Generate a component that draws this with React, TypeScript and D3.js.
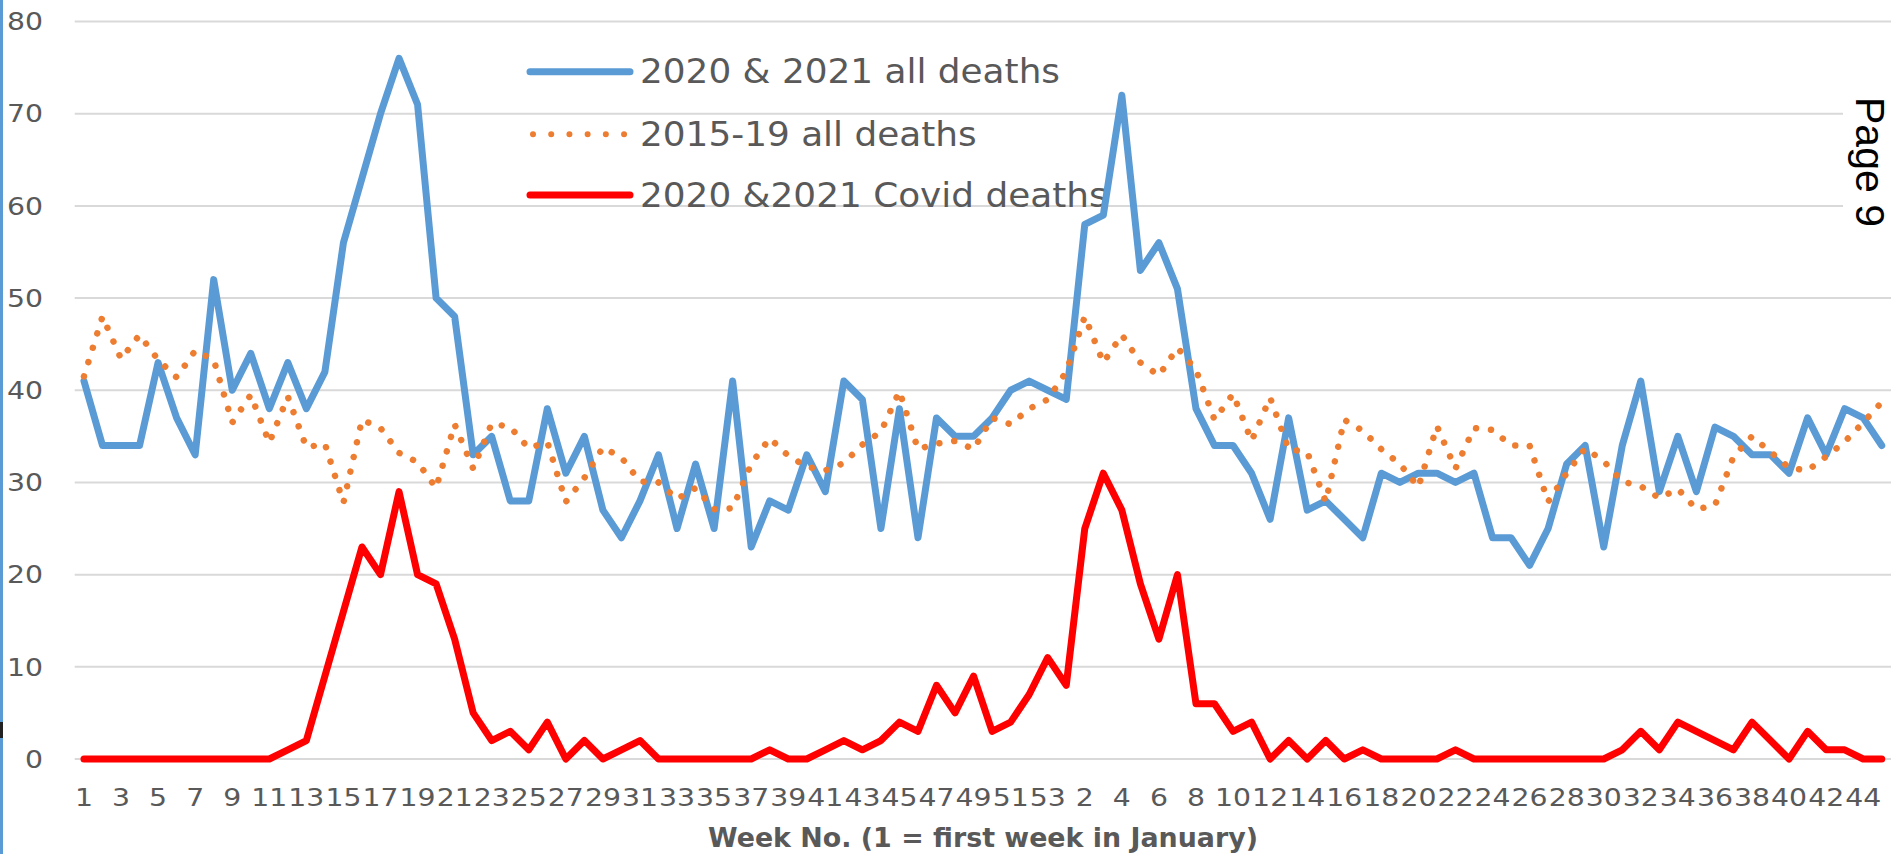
import React from "react";
import * as d3 from "d3";

// ---- data -------------------------------------------------------------
const weeks2020 = [
  1, 2, 3, 4, 5, 6, 7, 8, 9, 10, 11, 12, 13, 14, 15, 16, 17, 18, 19, 20,
  21, 22, 23, 24, 25, 26, 27, 28, 29, 30, 31, 32, 33, 34, 35, 36, 37, 38, 39, 40,
  41, 42, 43, 44, 45, 46, 47, 48, 49, 50, 51, 52, 53,
];
const weeks2021 = [
  1, 2, 3, 4, 5, 6, 7, 8, 9, 10, 11, 12, 13, 14, 15, 16, 17, 18, 19, 20,
  21, 22, 23, 24, 25, 26, 27, 28, 29, 30, 31, 32, 33, 34, 35, 36, 37, 38, 39, 40,
  41, 42, 43, 44, 45,
];

const allDeaths2020_21 = [
  41, 34, 34, 34, 43, 37, 33, 52, 40, 44, 38, 43, 38, 42, 56, 63, 70, 76, 71, 50,
  48, 33, 35, 28, 28, 38, 31, 35, 27, 24, 28, 33, 25, 32, 25, 41, 23, 28, 27, 33,
  29, 41, 39, 25, 38, 24, 37, 35, 35, 37, 40, 41, 40,
  39, 58, 59, 72, 53, 56, 51, 38, 34, 34, 31, 26, 37, 27, 28, 26, 24, 31, 30, 31,
  31, 30, 31, 24, 24, 21, 25, 32, 34, 23, 34, 41, 29, 35, 29, 36, 35, 33, 33, 31,
  37, 33, 38, 37, 34,
];

const allDeaths2015_19 = [
  41.5, 48, 43.4, 46, 43.3, 41.4, 44.3, 43.3, 36.5, 39.5, 34.3, 39.3, 33.8, 34.2,
  27.8, 36.8, 35.9, 33.2, 32.2, 29.4, 36.3, 31.5, 36.4, 36, 33.7, 34.4, 27.9, 30.5,
  33.8, 32.7, 30.1, 30, 28.2, 29.4, 27.1, 27.2, 32, 34.8, 32.9, 31.7, 31.3, 32.1,
  34.1, 35.5, 39.9, 33.6, 34.2, 34.5, 33.6, 37, 36.3, 38, 39,
  42, 48, 43, 46, 43, 41.6, 44.6, 42.2, 36.8, 39.6, 34.5, 39.2, 33.6, 33.3, 27.9,
  36.8, 35.6, 33.6, 32, 29.5, 36.1, 31.5, 35.9, 35.7, 34, 34, 27.9, 31, 33.7, 32.3,
  30.1, 29.6, 28.3, 29.3, 27.1, 27.5, 32.8, 35, 33.3, 31.6, 31.3, 32.8, 34.4, 36.5,
  38.7,
];

const covidDeaths2020_21 = [
  0, 0, 0, 0, 0, 0, 0, 0, 0, 0, 0, 1, 2, 9, 16, 23, 20, 29, 20, 19,
  13, 5, 2, 3, 1, 4, 0, 2, 0, 1, 2, 0, 0, 0, 0, 0, 0, 1, 0, 0,
  1, 2, 1, 2, 4, 3, 8, 5, 9, 3, 4, 7, 11,
  8, 25, 31, 27, 19, 13, 20, 6, 6, 3, 4, 0, 2, 0, 2, 0, 1, 0, 0, 0,
  0, 1, 0, 0, 0, 0, 0, 0, 0, 0, 1, 3, 1, 4, 3, 2, 1, 4, 2, 0,
  3, 1, 1, 0, 0,
];

const yTicks = [0, 10, 20, 30, 40, 50, 60, 70, 80];

const seriesNames = [
  "2020 & 2021 all deaths",
  "2015-19 all deaths",
  "2020 &2021 Covid deaths",
];

const axisTitle = "Week No. (1 = first week in January)";

// categories (one per week, 2020 then 2021)
const categories = [
  ...weeks2020.map((w) => `2020-${w}`),
  ...weeks2021.map((w) => `2021-${w}`),
];
const weekNumbers = [...weeks2020, ...weeks2021];

// ---- styles -------------------------------------------------------------
const BLUE = "#5B9BD5";
const ORANGE = "#ED7D31";
const RED = "#FF0000";
const GRID = "#D9D9D9";
const TEXT = "#595959";

export default function App() {
  const W = 1895;
  const H = 854;

  const x = d3
    .scaleBand<string>()
    .domain(categories)
    .range([74.7, 1891])
    .paddingInner(0)
    .paddingOuter(0);
  const cx = (i: number) => (x(categories[i]) as number) + x.bandwidth() / 2;
  const y = d3.scaleLinear().domain([0, 80]).range([759, 21.5]);

  const lineGen = d3
    .line<number>()
    .x((_, i) => cx(i))
    .y((d) => y(d));

  const tickFont = "'DejaVu Sans', sans-serif";
  const sx = 1.18;

  const legendRows = [
    { name: seriesNames[0], color: BLUE, dotted: false, ly: 71.7, ty: 82.7 },
    { name: seriesNames[1], color: ORANGE, dotted: true, ly: 134.3, ty: 146 },
    { name: seriesNames[2], color: RED, dotted: false, ly: 195, ty: 206.7 },
  ];

  return (
    <svg
      width={W}
      height={H}
      viewBox={`0 0 ${W} ${H}`}
      style={{ position: "absolute", left: 0, top: 0, background: "#fff" }}
    >
      <rect x={0} y={0} width={W} height={H} fill="#fff" />

      {/* gridlines */}
      {yTicks.map((t) => (
        <line
          key={"g" + t}
          x1={74.7}
          x2={1891}
          y1={y(t)}
          y2={y(t)}
          stroke={GRID}
          strokeWidth={2}
        />
      ))}

      {/* y tick labels */}
      {yTicks.map((t) => (
        <text
          key={"yt" + t}
          transform={`translate(43,${y(t) + 8.8}) scale(${sx},1)`}
          textAnchor="end"
          fontFamily={tickFont}
          fontSize={24}
          fill={TEXT}
        >
          {t}
        </text>
      ))}

      {/* x tick labels (every other category) */}
      {categories.map((c, i) =>
        i % 2 === 0 ? (
          <text
            key={"xt" + c}
            transform={`translate(${cx(i)},806) scale(${sx},1)`}
            textAnchor="middle"
            fontFamily={tickFont}
            fontSize={24}
            fill={TEXT}
          >
            {weekNumbers[i]}
          </text>
        ) : null
      )}

      {/* axis title */}
      <text
        x={983}
        y={847}
        textAnchor="middle"
        fontFamily="'DejaVu Sans', sans-serif"
        fontWeight="bold"
        fontSize={27}
        fill={TEXT}
        textLength={550}
        lengthAdjust="spacingAndGlyphs"
      >
        {axisTitle}
      </text>

      {/* Page 9 annotation */}
      <rect x={1843} y={92} width={52} height={142} fill="#fff" />
      <text
        transform="translate(1856,97) rotate(90)"
        fontFamily="'Liberation Sans', Arial, sans-serif"
        fontSize={41}
        fill="#000"
      >
        Page 9
      </text>

      {/* legend */}
      {legendRows.map((r) => (
        <g key={r.name}>
          <line
            x1={r.dotted ? 533 : 530}
            x2={r.dotted ? 628 : 630}
            y1={r.ly}
            y2={r.ly}
            stroke={r.color}
            strokeWidth={r.dotted ? 6 : 7}
            strokeLinecap="round"
            strokeDasharray={r.dotted ? "0.01 18.2" : undefined}
          />
          <text
            transform={`translate(640,${r.ty}) scale(1.07,1)`}
            fontFamily={tickFont}
            fontSize={33.5}
            fill={TEXT}
          >
            {r.name}
          </text>
        </g>
      ))}

      {/* series */}
      <path
        d={lineGen(allDeaths2020_21) || ""}
        fill="none"
        stroke={BLUE}
        strokeWidth={7}
        strokeLinejoin="round"
        strokeLinecap="round"
      />
      <path
        d={lineGen(allDeaths2015_19) || ""}
        fill="none"
        stroke={ORANGE}
        strokeWidth={6.5}
        strokeLinejoin="round"
        strokeLinecap="round"
        strokeDasharray="0.01 15"
      />
      <path
        d={lineGen(covidDeaths2020_21) || ""}
        fill="none"
        stroke={RED}
        strokeWidth={7}
        strokeLinejoin="round"
        strokeLinecap="round"
      />

      {/* left page edge */}
      <line x1={1.5} x2={1.5} y1={0} y2={H} stroke={BLUE} strokeWidth={3} />
      <line x1={1.5} x2={1.5} y1={722} y2={738} stroke="#222" strokeWidth={3} />
    </svg>
  );
}
